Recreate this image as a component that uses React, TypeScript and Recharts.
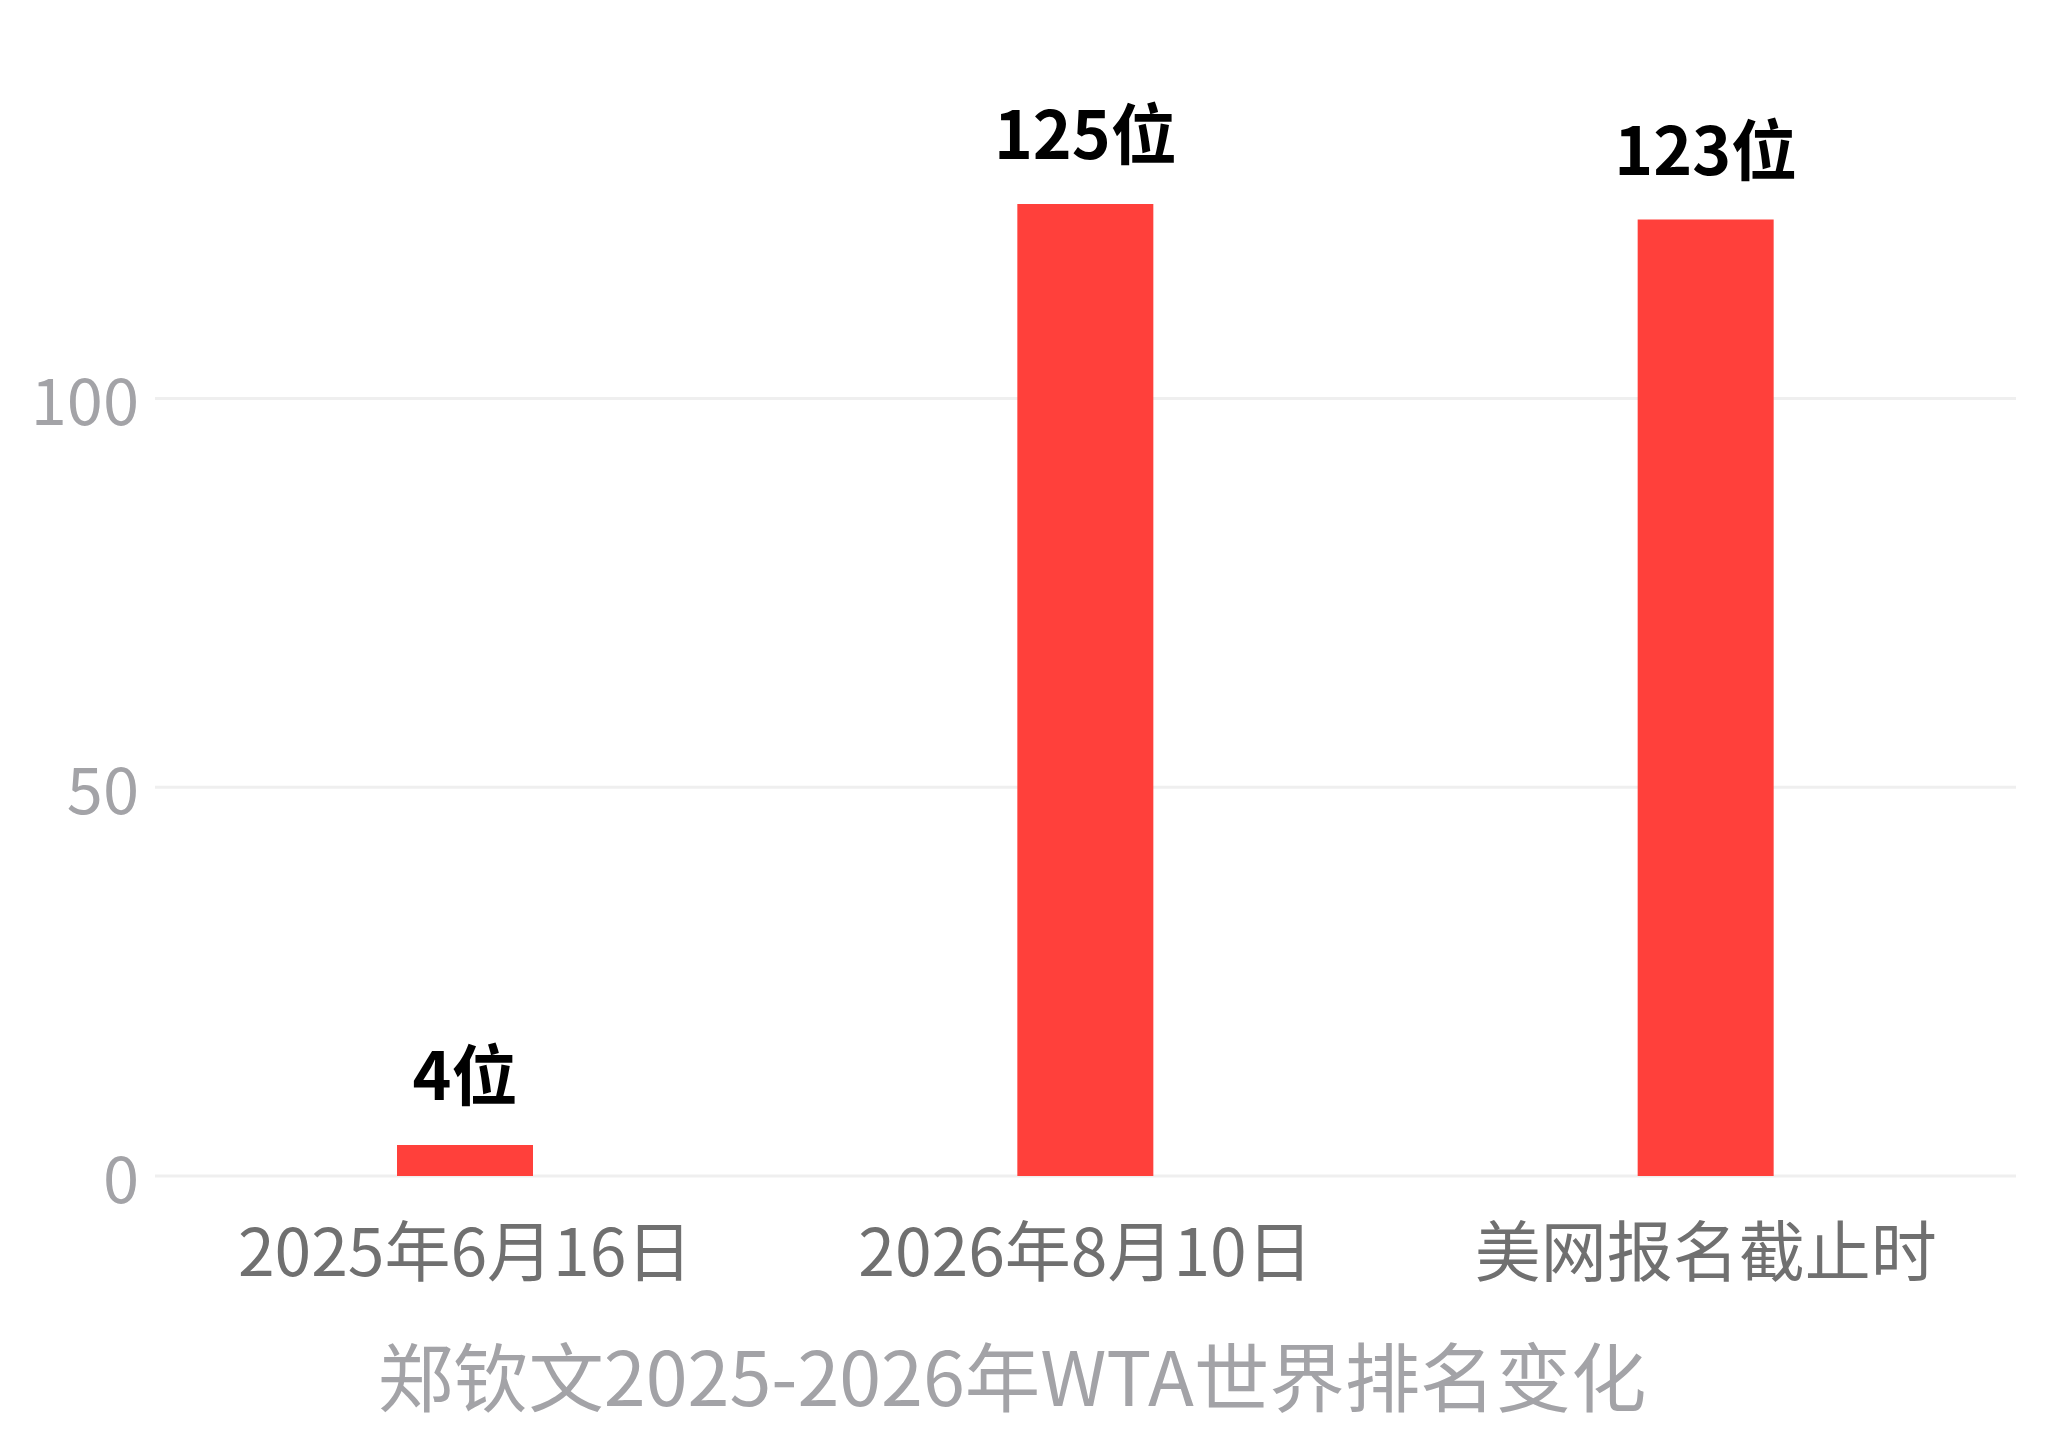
import React from 'react';
import { BarChart, Bar, XAxis, YAxis, CartesianGrid, LabelList } from 'recharts';

const categories = ['2025年6月16日', '2026年8月10日', '美网报名截止时'];
const rankings = [4, 125, 123];
const yTicks = [0, 50, 100];
const chartTitle = '郑钦文2025-2026年WTA世界排名变化';

const data = categories.map((name, i) => ({ name, rank: rankings[i] }));

const FONT = '"Noto Sans CJK SC", "Noto Sans", sans-serif';

const TitleLabel = () => (
  <text
    x={1012}
    y={1406}
    textAnchor="middle"
    fill="#a3a3a7"
    fontSize={75.4}
    fontFamily={FONT}
  >
    {chartTitle}
  </text>
);

export default function App() {
  return (
    <div style={{ position: 'absolute', left: 0, top: 0, background: '#fff' }}>
      <BarChart
        width={2046}
        height={1447}
        data={data}
        margin={{ top: 204, right: 30, left: 0, bottom: 121 }}
        barCategoryGap="0%"
      >
        <CartesianGrid vertical={false} stroke="#efefef" strokeWidth={3} syncWithTicks />
        <XAxis
          dataKey="name"
          axisLine={false}
          tickLine={false}
          height={150}
          tickMargin={47}
          tick={{ fill: '#707070', fontSize: 66, fontFamily: FONT }}
          interval={0}
          label={<TitleLabel />}
        />
        <YAxis
          width={155}
          domain={[0, 'dataMax']}
          ticks={yTicks}
          axisLine={false}
          tickLine={false}
          tickMargin={10}
          tick={{ fill: '#a3a3a7', fontSize: 65, fontFamily: FONT, dy: 4 }}
        />
        <Bar dataKey="rank" fill="#FF403B" barSize={136} isAnimationActive={false}>
          <LabelList
            dataKey="rank"
            position="top"
            offset={45}
            formatter={(v: any) => `${v}位`}
            style={{ fill: '#000', fontSize: 66, fontWeight: 700, fontFamily: FONT }}
          />
        </Bar>
      </BarChart>
    </div>
  );
}
